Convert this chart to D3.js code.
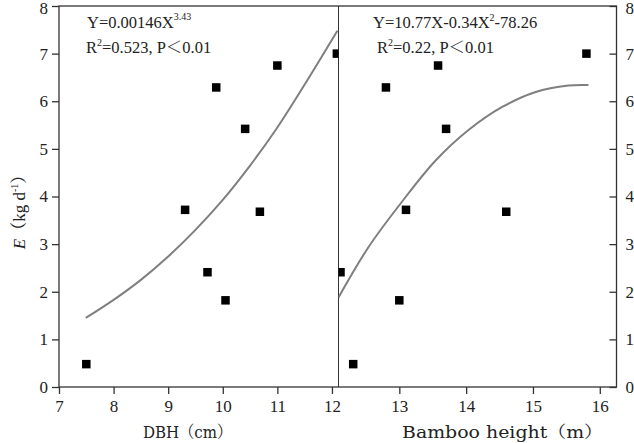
<!DOCTYPE html>
<html><head><meta charset="utf-8">
<script src="https://cdn.jsdelivr.net/npm/d3@7"></script>
<style>
html,body{margin:0;padding:0;background:#fff;}
svg text{font-family:"Liberation Serif","Times New Roman",serif;fill:#222;}
.cjk{font-family:"Liberation Serif","Noto Serif CJK SC","Noto Sans CJK SC",serif;}
.ttl{font-family:"DejaVu Serif","Noto Serif CJK SC","Noto Sans CJK SC",serif;}
</style></head>
<body>
<svg id="chart" width="634" height="443"></svg>
<script>
// Data
const energy = [0.48, 3.72, 2.41, 6.29, 1.82, 5.42, 3.68, 6.75, 7.00];
const dbh    = [7.50, 9.31, 9.72, 9.88, 10.05, 10.41, 10.68, 11.00, 12.09];
const heightE = [0.48, 6.29, 1.82, 3.72, 6.75, 5.42, 3.68, 7.00, 2.41];
const heightM = [12.31, 12.80, 13.00, 13.10, 13.58, 13.70, 14.60, 15.80, 12.12];
// fitted curves
const dbhCurveX = [7.49, 8.0, 8.5, 9.0, 9.5, 10.0, 10.5, 11.0, 11.5, 12.1];
const dbhCurveY = [1.45, 1.83, 2.25, 2.74, 3.30, 3.93, 4.65, 5.45, 6.35, 7.48];
const hCurveX = [12.09, 12.54, 13.04, 13.54, 14.04, 14.54, 15.03, 15.53, 15.83];
const hCurveY = [1.88, 2.94, 3.89, 4.75, 5.40, 5.88, 6.19, 6.33, 6.34];
const dbhTicks = [7, 8, 9, 10, 11, 12];
const hTicks = [13, 14, 15, 16];
const yTicks = [0, 1, 2, 3, 4, 5, 6, 7, 8];

const svg = d3.select("#chart");
const L = 59, M = 338.5, R = 616.5, T = 6, B = 387;
const xL = d3.scaleLinear().domain([7, 12.12]).range([L, M]);
const xR = d3.scaleLinear().domain([12.09, 16.25]).range([M, R]);
const y = d3.scaleLinear().domain([0, 8]).range([B, T]);

const defs = svg.append("defs");
defs.append("clipPath").attr("id","clipL").append("rect").attr("x",L).attr("y",T).attr("width",M-L).attr("height",B-T);
defs.append("clipPath").attr("id","clipR").append("rect").attr("x",M).attr("y",T).attr("width",R-M).attr("height",B-T);

const fs = 17;
const fmt = d3.format("d");
// Axes
const axL = svg.append("g").attr("transform",`translate(${L},0)`).call(d3.axisLeft(y).tickValues(yTicks).tickFormat(fmt).tickSize(7).tickPadding(4));
const axR = svg.append("g").attr("transform",`translate(${R},0)`).call(d3.axisRight(y).tickValues(yTicks).tickFormat(fmt).tickSize(-7).tickPadding(9));
const axB1 = svg.append("g").attr("transform",`translate(0,${B})`).call(d3.axisBottom(xL).tickValues(dbhTicks).tickFormat(fmt).tickSize(7).tickPadding(6));
const axB2 = svg.append("g").attr("transform",`translate(0,${B})`).call(d3.axisBottom(xR).tickValues(hTicks).tickFormat(fmt).tickSize(7).tickPadding(6));
[axL, axR, axB1, axB2].forEach(g => {
  g.selectAll(".domain").remove();
  g.selectAll("line").attr("stroke","#333").attr("stroke-width",1.3);
  g.selectAll("text").attr("font-size",fs).attr("font-family","Liberation Serif").attr("fill","#222");
});
[axL, axR].forEach(g => g.selectAll(".tick text").filter(d => d === 8).attr("dy","0.42em"));
// Frame
const frame = svg.append("g").attr("stroke","#333").attr("stroke-width",1.3).attr("fill","none");
frame.append("rect").attr("x",L).attr("y",T).attr("width",R-L).attr("height",B-T);
frame.append("line").attr("x1",M).attr("x2",M).attr("y1",T).attr("y2",B).attr("stroke-width",1);

// Curves
const line = (sx) => d3.line().x(d => sx(d[0])).y(d => y(d[1])).curve(d3.curveCatmullRom.alpha(0.5));
svg.append("path").datum(dbhCurveX.map((v,i)=>[v, dbhCurveY[i]]))
  .attr("d", line(xL)).attr("fill","none").attr("stroke","#7f7f7f").attr("stroke-width",2).attr("clip-path","url(#clipL)");
svg.append("path").datum(hCurveX.map((v,i)=>[v, hCurveY[i]]))
  .attr("d", line(xR)).attr("fill","none").attr("stroke","#7f7f7f").attr("stroke-width",2).attr("clip-path","url(#clipR)");

// Markers
const ms = 8.5;
svg.append("g").attr("clip-path","url(#clipL)").selectAll("rect").data(dbh.map((v,i)=>[v, energy[i]])).join("rect")
  .attr("x", d => xL(d[0]) - ms/2).attr("y", d => y(d[1]) - ms/2).attr("width", ms).attr("height", ms).attr("fill","#000");
svg.append("g").attr("clip-path","url(#clipR)").selectAll("rect").data(heightM.map((v,i)=>[v, heightE[i]])).join("rect")
  .attr("x", d => xR(d[0]) - ms/2).attr("y", d => y(d[1]) - ms/2).attr("width", ms).attr("height", ms).attr("fill","#000");

// Equations
const ef = 16.5;
const t1 = svg.append("text").attr("x",87).attr("y",28).attr("font-size",ef);
t1.append("tspan").text("Y=0.00146X");
t1.append("tspan").attr("dy",-8).attr("font-size",10).text("3.43");
const t2 = svg.append("text").attr("x",86).attr("y",53).attr("font-size",ef).attr("class","cjk");
t2.append("tspan").text("R");
t2.append("tspan").attr("dy",-7).attr("font-size",10).text("2");
t2.append("tspan").attr("dy",7).text("=0.523, P＜0.01");

const t3 = svg.append("text").attr("x",373).attr("y",28).attr("font-size",ef);
t3.append("tspan").text("Y=10.77X-0.34X");
t3.append("tspan").attr("dy",-7).attr("font-size",10).text("2");
t3.append("tspan").attr("dy",7).text("-78.26");
const t4 = svg.append("text").attr("x",377).attr("y",53).attr("font-size",ef).attr("class","cjk");
t4.append("tspan").text("R");
t4.append("tspan").attr("dy",-7).attr("font-size",10).text("2");
t4.append("tspan").attr("dy",7).text("=0.22, P＜0.01");

// Axis titles
svg.append("text").attr("class","ttl").attr("x",143).attr("y",438).attr("font-size",16.5)
  .attr("textLength",89).attr("lengthAdjust","spacingAndGlyphs").text("DBH（cm）");
svg.append("text").attr("class","ttl").attr("x",402).attr("y",438).attr("font-size",16.5)
  .attr("textLength",201).attr("lengthAdjust","spacingAndGlyphs").text("Bamboo height（m）");
const yl = svg.append("text").attr("class","cjk").attr("transform","translate(25,208) rotate(-90)").attr("text-anchor","middle").attr("font-size",fs);
yl.append("tspan").attr("font-style","italic").text("E");
yl.append("tspan").text("（kg d");
yl.append("tspan").attr("dy",-7).attr("font-size",10).text("-1");
yl.append("tspan").attr("dy",7).text("）");
</script>
</body></html>
